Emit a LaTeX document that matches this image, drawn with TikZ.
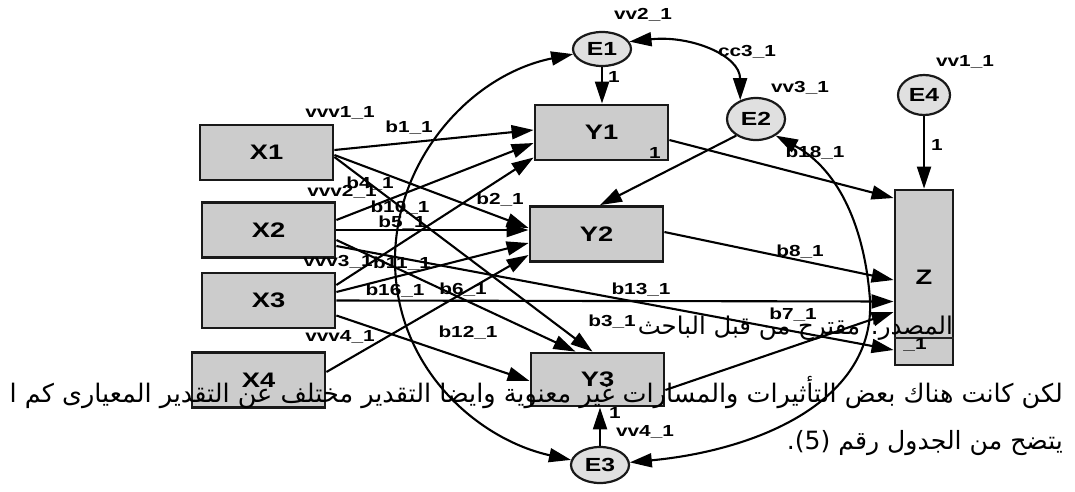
\documentclass[tikz,border=0pt]{standalone}
\usepackage{fontspec}
\setmainfont{Liberation Sans}
\newfontfamily\lblfont{Liberation Sans}[FakeStretch=1.3]
\newfontfamily\arabicfont[Script=Arabic]{DejaVu Sans}
\TeXXeTstate=1
\usetikzlibrary{arrows.meta,shapes.geometric}
\begin{document}
\begin{tikzpicture}[x=1pt,y=-1pt,
  obs/.style={draw=black!90, line width=2.8pt, fill=black!20, minimum width=133pt, minimum height=55pt, inner sep=0pt, font=\lblfont\bfseries\fontsize{21}{21}\selectfont},
  err/.style={ellipse, draw=black!90, line width=2.2pt, fill=black!12, minimum width=58pt, minimum height=36pt, inner sep=0pt, font=\lblfont\bfseries\fontsize{19}{19}\selectfont},
  pth/.style={line width=2.1pt, -{Triangle[length=22pt,width=14pt]}},
  cov/.style={line width=2.1pt, {Triangle[length=22pt,width=14pt]}-{Triangle[length=22pt,width=14pt]}},
  lbl/.style={font=\lblfont\bfseries\fontsize{16}{16}\selectfont, inner sep=0pt},
  artxt/.style={inner sep=0pt, anchor=east, font=\arabicfont\fontsize{20}{24}\selectfont},
]
\fill[white] (0,0) rectangle (1075,491);
\useasboundingbox (0,0) rectangle (1075,491);

% observed variables
\node[obs] (X1) at (266.5,152.5) {X1};
\node[obs] (X2) at (268.5,230) {X2};
\node[obs] (X3) at (268.5,300.5) {X3};
\node[obs] (X4) at (258.5,380) {X4};
\node[obs] (Y1) at (601.5,132.5) {Y1};
\node[obs] (Y2) at (596.5,234) {Y2};
\node[obs, minimum height=53pt] (Y3) at (597.5,379.5) {Y3};
\node[obs, minimum width=58pt, minimum height=175pt] (Z) at (924,277.5) {Z};
\draw[line width=1.5pt, black!85] ([yshift=-60.5pt]Z.west) -- ([yshift=-60.5pt]Z.east);

% error terms
\node[err, minimum height=34pt] (E1) at (602,49) {E1};
\node[err, minimum height=42pt] (E2) at (756,119) {E2};
\node[err] (E3) at (600,465) {E3};
\node[err, minimum width=52pt, minimum height=40pt] (E4) at (924,95) {E4};

% error paths
\draw[pth] (E1.south) -- (E1.south |- Y1.north);
\draw[pth] (E2.220) -- ([xshift=3.5pt]Y2.north);
\draw[pth] (E3.north) -- (E3.north |- Y3.south);
\draw[pth] (E4.south) -- (Z.north);

% regression paths
\draw[pth] ([yshift=2.5pt]X1.east) -- ([yshift=2.5pt]Y1.west);
\draw[pth] ([yshift=-2.5pt]X1.east) -- ([yshift=6pt]Y2.west);
\draw[pth] ([yshift=-4.5pt]X1.east) -- ([xshift=-5pt]Y3.north);
\draw[pth] ([yshift=10pt]X2.east) -- ([yshift=-10.5pt]Y1.west);
\draw[pth] (X2.east) -- (X2.east -| Y2.west);
\draw[pth] ([yshift=-10pt]X2.east) -- ([xshift=-22pt]Y3.north);
\draw[pth] ([yshift=-16pt]X2.east) -- ([yshift=-72.5pt]Z.west);
\draw[pth] ([yshift=15.5pt]X3.east) -- ([yshift=-25pt]Y1.west);
\draw[pth] ([yshift=8.5pt]X3.east) -- ([yshift=-9pt]Y2.west);
\draw[pth] (X3.east) -- ([yshift=-24pt]Z.west);
\draw[pth] ([yshift=-15pt]X3.east) -- ([yshift=-1.5pt]Y3.west);
\draw[pth] ([yshift=8pt]X4.east) -- ([yshift=-21pt]Y2.west);
\draw[pth] ([yshift=-7.5pt]Y1.east) -- ([yshift=79.5pt]Z.west);
\draw[pth] ([yshift=2pt]Y2.east) -- ([yshift=-2.5pt]Z.west);
\draw[pth] ([yshift=-10.5pt]Y3.east) -- ([yshift=-34.5pt]Z.west);

% covariances
\draw[cov] (E1.15) .. controls (690,35) and (740,55) .. (E2.130);
\draw[cov] (E1.190) .. controls (470,75) and (395,160) .. (395,260) .. controls (395,370) and (480,440) .. (E3.170);
\draw[cov] (E3.5) .. controls (760,450) and (875,400) .. (870,300) .. controls (865,230) and (840,170) .. (E2.320);

% labels
\node[lbl] (l1) at (643,15) {vv2\_1};
\node[lbl] (l2) at (747,52) {cc3\_1};
\node[lbl] (l3) at (614,77) {1};
\node[lbl] (l4) at (800,88) {vv3\_1};
\node[lbl] (l5) at (965,62) {vv1\_1};
\node[lbl] (l6) at (937,145) {1};
\node[lbl] (l7) at (340,113) {vvv1\_1};
\node[lbl] (l8) at (409,128) {b1\_1};
\node[lbl] (l9) at (655,153) {1};
\node[lbl] (l10) at (342,192) {vvv2\_1};
\node[lbl] (l11) at (370,184) {b4\_1};
\node[lbl] (l12) at (400,208) {b10\_1};
\node[lbl] (l13) at (402,223) {b5\_1};
\node[lbl] (l14) at (500,200) {b2\_1};
\node[lbl] (l15) at (338,262) {vvv3\_1};
\node[lbl] (l16) at (402,264) {b11\_1};
\node[lbl] (l17) at (395,291) {b16\_1};
\node[lbl] (l18) at (463,290) {b6\_1};
\node[lbl] (l19) at (468,333) {b12\_1};
\node[lbl] (l20) at (340,337) {vvv4\_1};
\node[lbl] (l21) at (641,290) {b13\_1};
\node[lbl] (l22) at (793,315) {b7\_1};
\node[lbl] (l23) at (800,252) {b8\_1};
\node[lbl] (l24) at (612,322) {b3\_1};
\node[lbl] (l25) at (815,153) {b18\_1};
\node[lbl] (l26) at (615,413) {1};
\node[lbl] (l27) at (645,432) {vv4\_1};
\node[lbl] (l28) at (915,345) {\_1};

% overlaid Arabic text
\node[artxt] (t3) at (953,328) {\resizebox{315pt}{!}{\beginR المصدر: مقترح من قبل الباحث\endR}};
\node[artxt] (t1) at (1063,393) {\resizebox{1053pt}{!}{\beginR لكن كانت هناك بعض التأثيرات والمسارات غير معنوية وايضا التقدير مختلف عن التقدير المعيارى كم ا\endR}};
\node[artxt] (t2) at (1063,443) {\resizebox{276pt}{!}{\beginR يتضح من الجدول رقم \beginL(5)\endL.\endR}};
\end{tikzpicture}
\end{document}
